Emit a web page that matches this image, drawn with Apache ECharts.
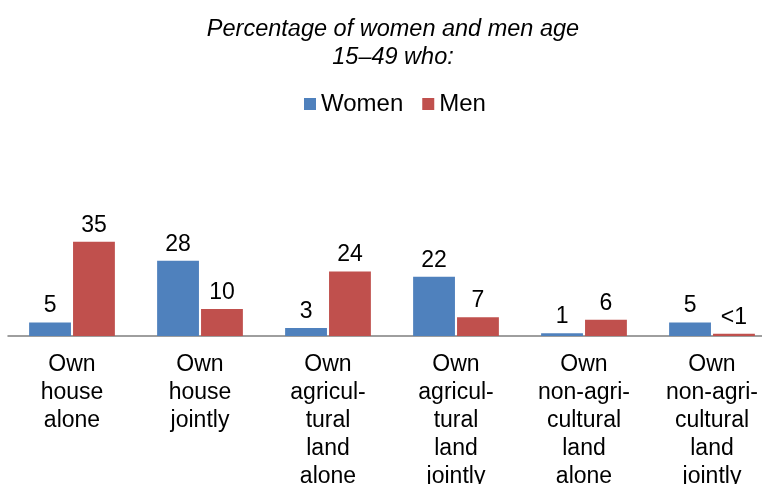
<!DOCTYPE html>
<html><head><meta charset="utf-8">
<script src="https://cdn.jsdelivr.net/npm/echarts@6/dist/echarts.min.js"></script>
<style>html,body{margin:0;padding:0;background:#fff}#c{width:762px;height:484px}</style>
</head><body><div id="c"></div>
<script>
const categories = ["Own\nhouse\nalone","Own\nhouse\njointly","Own\nagricul-\ntural\nland\nalone","Own\nagricul-\ntural\nland\njointly","Own\nnon-agri-\ncultural\nland\nalone","Own\nnon-agri-\ncultural\nland\njointly"];
const women = [5, 28, 3, 22, 1, 5];
const men = [35, 10, 24, 7, 6, 0.8];
const womenLabels = ["5","28","3","22","1","5"];
const menLabels = ["35","10","24","7","6","<1"];
const seriesNames = ["Women","Men"];

const FF = 'Liberation Sans, Arial';
const chart = echarts.init(document.getElementById('c'));
const labelStyle = (arr) => ({show:true, position:'top', distance:5, fontFamily:FF, fontSize:23, color:'#000', formatter: p => arr[p.dataIndex]});
chart.setOption({
  animation:false,
  title:{text:"Percentage of women and men age\n15–49 who:", left:388, top:10, textAlign:'center',
    textStyle:{fontFamily:FF, fontStyle:'italic', fontWeight:'normal', fontSize:23.5, lineHeight:28, color:'#000'}},
  legend:{data:seriesNames, left:299, top:87, icon:'rect', itemWidth:12, itemHeight:12, itemGap:19,
    textStyle:{fontFamily:FF, fontSize:24, color:'#000'}},
  grid:{left:8, right:-14, top:201.5, bottom:148, containLabel:false, outerBoundsMode:'none'},
  xAxis:{type:'category', data:categories, axisTick:{show:false},
    axisLine:{lineStyle:{color:'#7f7f7f', width:1.5}},
    axisLabel:{interval:0, margin:15, fontFamily:FF, fontSize:23, lineHeight:28, color:'#000'}},
  yAxis:{type:'value', min:0, max:50, show:false, splitLine:{show:false}},
  series:[
    {name:seriesNames[0], type:'bar', data:women, barGap:'5%', barCategoryGap:'33%', itemStyle:{color:'#4F81BD'}, label:labelStyle(womenLabels)},
    {name:seriesNames[1], type:'bar', data:men, itemStyle:{color:'#C0504D'}, label:labelStyle(menLabels)}
  ]
});
</script></body></html>
